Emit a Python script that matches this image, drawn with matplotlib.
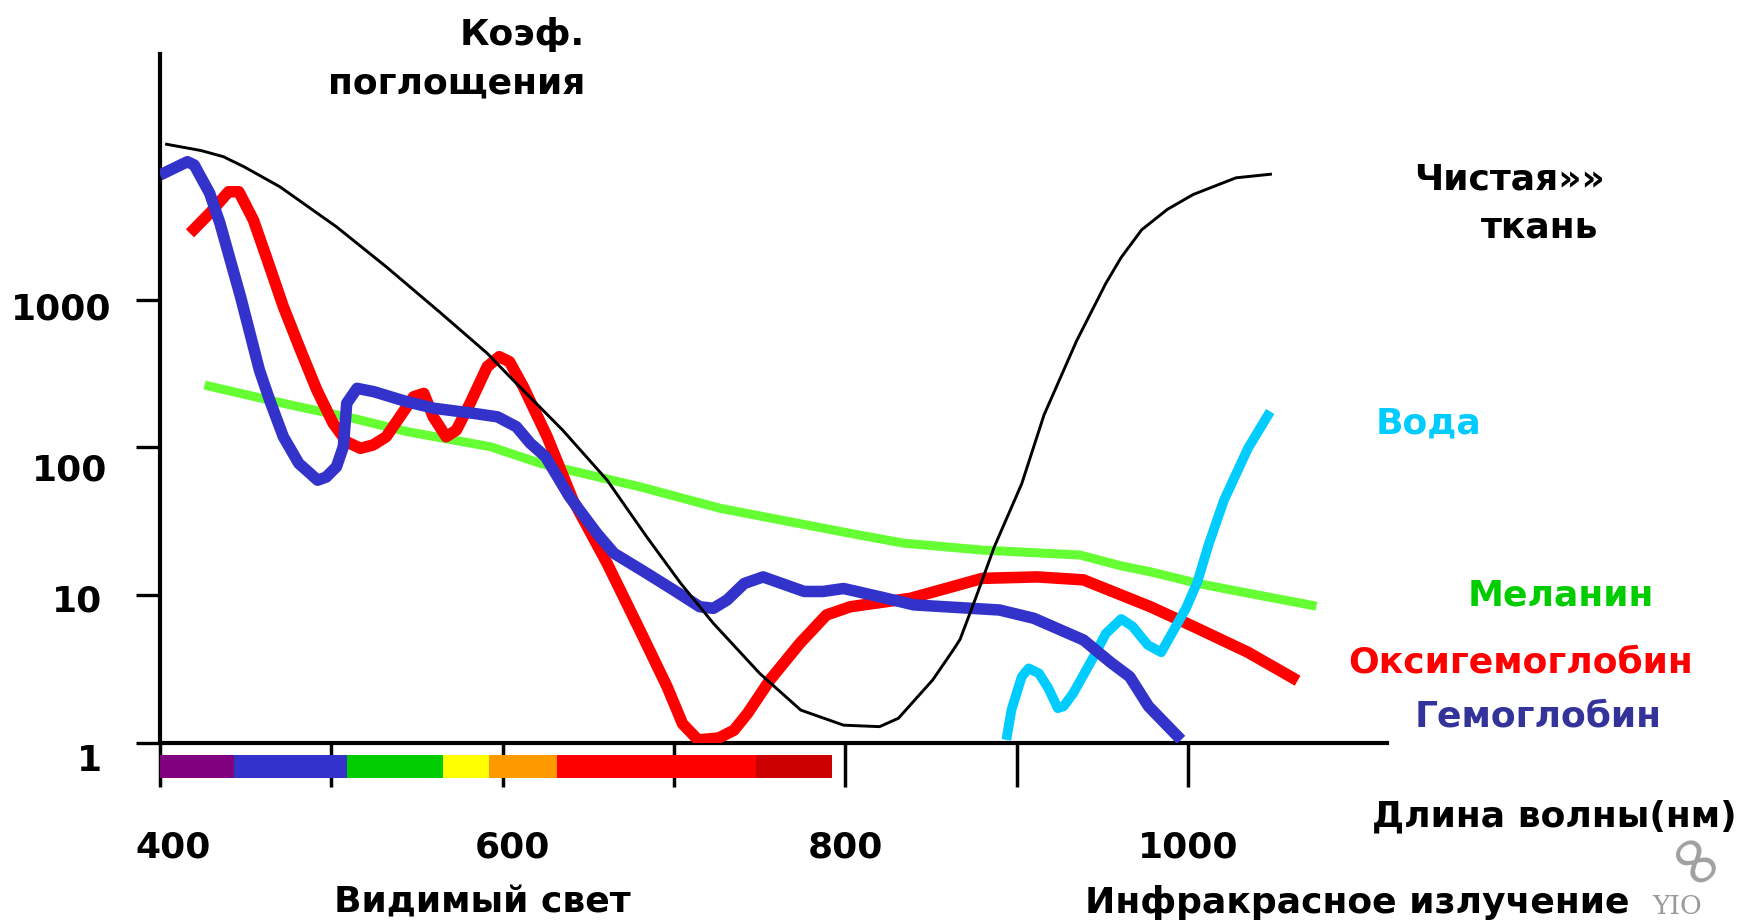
import matplotlib
matplotlib.use("Agg")
import matplotlib.pyplot as plt
from matplotlib.ticker import NullLocator

# ---------------- data ----------------
# wavelength in nm, absorption coefficient (log scale)
tissue_nm = [403, 424, 437, 449, 470, 503, 532, 563, 591, 606, 635, 661, 684, 704, 723,
             750, 774, 799, 820, 831, 851, 863, 867, 876, 887, 903, 916, 935, 952, 961,
             973, 988, 1003, 1028, 1049]
tissue_val = [11300, 10200, 9270, 7930, 5800, 3110, 1670, 828, 433, 286, 131, 60, 24.9, 12.0, 6.45,
              2.96, 1.67, 1.32, 1.29, 1.47, 2.67, 4.26, 5.03, 9.5, 21.3, 56.9, 166, 526, 1285, 1928,
              2970, 4080, 5140, 6670, 7070]

hb_nm = [400, 412, 416, 420, 429, 435, 447, 458, 464, 472, 481, 492, 497, 503, 507, 509, 515,
         525, 544, 560, 583, 597, 608, 616, 625, 639, 655, 665, 684, 700, 715, 723, 731, 741,
         752, 776, 787, 799, 820, 840, 890, 910, 939, 955, 966, 977, 996]
hb_val = [6970, 8140, 8570, 8140, 5240, 3280, 1047, 334, 209, 118, 78, 60, 63, 74, 101, 199, 251,
          238, 204, 184, 170, 161, 138, 107, 86.5, 46.4, 26.2, 19.2, 14.1, 10.8, 8.36, 8.15, 9.28, 12.0,
          13.3, 10.6, 10.6, 11.1, 9.77, 8.6, 7.94, 6.98, 4.98, 3.5, 2.81, 1.77, 1.05]

hbo2_nm = [417.5, 429, 440, 446, 454.5, 462, 472, 482, 491.5, 501, 509, 517, 524.5, 532, 540,
           548, 554, 559.5, 567, 573, 581, 591, 598, 604, 612, 626, 641, 661, 680, 696, 705,
           714, 726, 735, 743, 756, 773.5, 789, 803, 838, 880, 912, 939, 978, 1003, 1035, 1064]
hbo2_val = [2810, 3840, 5370, 5370, 3460, 1950, 895, 456, 245, 146, 109, 98.6, 104, 118, 161,
            220, 232, 161, 118, 131, 199, 352, 411, 380, 258, 118, 44, 16.4, 5.82, 2.40, 1.35,
            1.05, 1.08, 1.22, 1.59, 2.67, 4.73, 7.35, 8.36, 9.53, 13.0, 13.3, 12.7, 8.36, 6.16, 4.11, 2.64]

mel_nm = [426, 476, 513, 544, 593, 622, 680, 727, 803, 834, 880, 937, 961, 978, 1006, 1028, 1075]
mel_val = [264, 194, 157, 128, 101, 78, 54.2, 38.7, 26.2, 22.5, 20.2, 18.7, 15.8, 14.4, 12.0, 10.7, 8.43]

water_nm = [894, 897, 903, 907, 913, 918.5, 924, 927.4, 933, 945, 952, 961, 967.6, 976.6, 984.4,
            999, 1005.5, 1012, 1021, 1035, 1048]
water_val = [1.05, 1.68, 2.81, 3.20, 2.96, 2.35, 1.72, 1.77, 2.17, 3.84, 5.49, 6.91, 6.16, 4.6, 4.11,
             8.22, 12.3, 21.9, 43.9, 98.5, 175]

# visible spectrum strip
band_edges = [400, 443, 509, 565, 592, 632, 748, 792]
band_colors = ['#800080', '#3333CC', '#00CC00', '#FFFF00', '#FF9900', '#FF0000', '#CC0000']

x_ticks = [400, 500, 600, 700, 800, 900, 1000]
x_labels = {400: '400', 600: '600', 800: '800', 1000: '1000'}
y_ticks = [1, 10, 100, 1000]
y_labels = ['1', '10', '100', '1000']

# ---------------- figure ----------------
W, H = 1744, 922
fig = plt.figure(figsize=(W / 100, H / 100), dpi=100)
fig.patch.set_facecolor('white')


def fx(px):
    return px / W


def fy(py):
    return 1 - py / H


ax = fig.add_axes([fx(160), fy(743), fx(1386.7) - fx(160), fy(54.3) - fy(743)])
ax.set_yscale('log')
ax.set_xlim(400, 1116)
ax.set_ylim(1, 45700)

for s in ['top', 'right']:
    ax.spines[s].set_visible(False)
for s in ['left', 'bottom']:
    ax.spines[s].set_linewidth(3)
    ax.spines[s].set_color('black')

ax.set_xticks(x_ticks)
ax.set_yticks(y_ticks)
ax.yaxis.set_minor_locator(NullLocator())
ax.tick_params(axis='x', direction='out', length=32, width=2.5, labelbottom=False)
ax.tick_params(axis='y', direction='out', length=17, width=2.4, labelleft=False)

# curves
style = dict(solid_joinstyle='round', solid_capstyle='butt')
ax.plot(mel_nm, mel_val, color='#66FF33', lw=6.5, zorder=3, **style)
ax.plot(hbo2_nm, hbo2_val, color='#FF0000', lw=8.3, zorder=4, **style)
ax.plot(water_nm, water_val, color='#00CCFF', lw=7, zorder=5, **style)
ax.plot(hb_nm, hb_val, color='#3333CC', lw=8.3, zorder=6, **style)
ax.plot(tissue_nm, tissue_val, color='black', lw=2.1, zorder=7, **style)

# spectrum strip below the axis
ranges = [(band_edges[i], band_edges[i + 1] - band_edges[i]) for i in range(len(band_colors))]
ax.broken_barh(ranges, (0.580, 0.829 - 0.580), facecolors=band_colors, clip_on=False, zorder=2)

# tick labels
bold = dict(fontsize=26, fontweight='bold', family='DejaVu Sans')
y_dx = [-58, -57.5, -52.5, -49]
y_dy = [-27.5, -16.5, -33.3, -19.7]
for v, lab, dx, dy in zip(y_ticks, y_labels, y_dx, y_dy):
    ax.annotate(lab, xy=(0, v), xycoords=('axes fraction', 'data'), xytext=(dx, dy),
                textcoords='offset pixels', ha='right', va='baseline', **bold)
x_dx = {400: 13.5, 600: 10, 800: 0, 1000: 0}
for v, lab in x_labels.items():
    ax.annotate(lab, xy=(v, 0), xycoords=('data', 'axes fraction'), xytext=(x_dx[v], -114),
                textcoords='offset pixels', ha='center', va='baseline', annotation_clip=False, **bold)

# texts
fig.text(fx(585), fy(45), 'Коэф.', ha='right', va='baseline', **bold)
fig.text(fx(585), fy(93), 'поглощения', ha='right', va='baseline', **bold)
fig.text(fx(1605), fy(190), 'Чистая»»', ha='right', va='baseline', **bold)
fig.text(fx(1598), fy(237), 'ткань', ha='right', va='baseline', **bold)
fig.text(fx(1376), fy(433.5), 'Вода', ha='left', va='baseline', color='#00CCFF', **bold)
fig.text(fx(1468), fy(606), 'Меланин', ha='left', va='baseline', color='#00CC00', **bold)
fig.text(fx(1348), fy(672), 'Оксигемоглобин', ha='left', va='baseline', color='#FF0000', **bold)
fig.text(fx(1415), fy(726.5), 'Гемоглобин', ha='left', va='baseline', color='#333399', **bold)
fig.text(fx(1371.7), fy(826), 'Длина волны(нм)', ha='left', va='baseline', **bold)
fig.text(fx(334), fy(912), 'Видимый свет', ha='left', va='baseline', **bold)
fig.text(fx(1085), fy(913), 'Инфракрасное излучение', ha='left', va='baseline', **bold)

# faint logo at bottom right
fig.text(fx(1652), fy(919), 'YIO', ha='left', va='bottom', color='#9a9a9a',
         fontsize=19, family='DejaVu Serif')
fig.text(fx(1690), fy(868), '∞', ha='center', va='center', color='#a0a0a0',
         fontsize=52, rotation=-50, family='DejaVu Sans')

fig.savefig('out.png', dpi=100, facecolor='white')
